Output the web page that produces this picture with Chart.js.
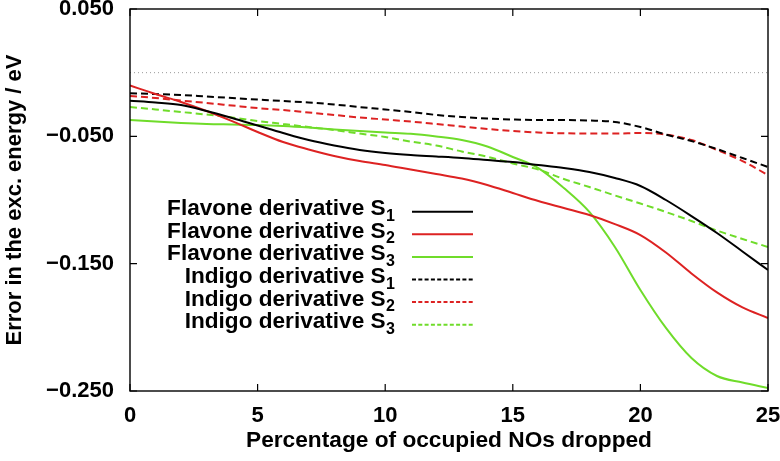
<!DOCTYPE html>
<html><head><meta charset="utf-8">
<script src="https://cdn.jsdelivr.net/npm/chart.js@4/dist/chart.umd.min.js"></script>
<style>html,body{margin:0;padding:0;background:#fff;}#wrap{width:780px;height:461px;}</style>
</head><body><div id="wrap"><canvas id="c" width="780" height="461"></canvas></div>
<script>
const xValues = [0,1,2,3,4,5,6,7,8,9,10,11,12,13,14,15,16,17,18,19,20,21,22,23,24,25];
const xTicks = [0,5,10,15,20,25];
const yTicks = [-0.25,-0.15,-0.05,0.05];
const xTitle = 'Percentage of occupied NOs dropped';
const yTitle = 'Error in the exc. energy / eV';

const flavoneS1 = [-0.0220,-0.0234,-0.0254,-0.0301,-0.0356,-0.0415,-0.0474,-0.0529,-0.0572,-0.0607,-0.0631,-0.0647,-0.0658,-0.0670,-0.0686,-0.0702,-0.0725,-0.0749,-0.0780,-0.0827,-0.0890,-0.1000,-0.1126,-0.1259,-0.1404,-0.1550];
const flavoneS2 = [-0.0101,-0.0168,-0.0230,-0.0301,-0.0380,-0.0466,-0.0545,-0.0603,-0.0654,-0.0694,-0.0725,-0.0761,-0.0796,-0.0831,-0.0882,-0.0945,-0.1008,-0.1063,-0.1118,-0.1189,-0.1275,-0.1412,-0.1577,-0.1726,-0.1844,-0.1927];
const flavoneS3 = [-0.0372,-0.0384,-0.0395,-0.0403,-0.0407,-0.0411,-0.0419,-0.0431,-0.0446,-0.0458,-0.0470,-0.0480,-0.0501,-0.0529,-0.0580,-0.0662,-0.0749,-0.0906,-0.1094,-0.1369,-0.1707,-0.2005,-0.2241,-0.2382,-0.2433,-0.2477];
const indigoS1 = [-0.0162,-0.0168,-0.0175,-0.0187,-0.0199,-0.0211,-0.0223,-0.0234,-0.0250,-0.0270,-0.0289,-0.0309,-0.0332,-0.0348,-0.0360,-0.0368,-0.0372,-0.0372,-0.0376,-0.0387,-0.0427,-0.0486,-0.0537,-0.0600,-0.0670,-0.0741];
const indigoS2 = [-0.0183,-0.0199,-0.0219,-0.0238,-0.0258,-0.0278,-0.0293,-0.0313,-0.0332,-0.0352,-0.0368,-0.0384,-0.0403,-0.0423,-0.0442,-0.0458,-0.0470,-0.0476,-0.0478,-0.0478,-0.0474,-0.0486,-0.0529,-0.0607,-0.0694,-0.0804];
const indigoS3 = [-0.0270,-0.0289,-0.0309,-0.0329,-0.0352,-0.0380,-0.0403,-0.0427,-0.0450,-0.0478,-0.0505,-0.0541,-0.0572,-0.0619,-0.0660,-0.0713,-0.0761,-0.0835,-0.0898,-0.0964,-0.1028,-0.1094,-0.1165,-0.1240,-0.1306,-0.1369];
const referenceLine = [0,0];
const referenceX = [0,25];

const seriesNames = ['Flavone derivative S','Flavone derivative S','Flavone derivative S','Indigo derivative S','Indigo derivative S','Indigo derivative S'];
const seriesSubs = ['1','2','3','1','2','3'];
const seriesValues = [flavoneS1,flavoneS2,flavoneS3,indigoS1,indigoS2,indigoS3];
const seriesColors = ['#000000','#dd2222','#6fdc2a','#000000','#dd2222','#6fdc2a'];
const seriesDashed = [false,false,false,true,true,true];

const FONT = 'Liberation Sans, Arial, Helvetica, sans-serif';

const datasets = [{
  label: '', data: referenceX.map((x,i)=>({x, y: referenceLine[i]})),
  borderColor: '#9a9a9a', borderWidth: 1, borderDash: [1,3], pointRadius: 0, fill: false, legendSkip: true
}];
seriesValues.forEach((vals, k) => {
  datasets.push({
    label: seriesNames[k], sub: seriesSubs[k],
    data: xValues.map((x,i)=>({x, y: vals[i]})),
    borderColor: seriesColors[k], borderWidth: 2,
    borderDash: seriesDashed[k] ? [7,4] : [],
    legendDash: seriesDashed[k] ? [4,2.3] : [],
    pointRadius: 0, fill: false, cubicInterpolationMode: 'monotone'
  });
});

const framePlugin = {
  id: 'frame',
  afterDatasetsDraw(chart) {
    const {ctx, chartArea: a, scales: {x, y}} = chart;
    ctx.save();
    ctx.strokeStyle = '#000'; ctx.lineWidth = 1.4;
    ctx.strokeRect(a.left, a.top, a.right - a.left, a.bottom - a.top);
    ctx.lineWidth = 1.2;
    const L = 7;
    ctx.beginPath();
    xTicks.forEach(v => { const p = x.getPixelForValue(v);
      ctx.moveTo(p, a.bottom); ctx.lineTo(p, a.bottom - L);
      ctx.moveTo(p, a.top); ctx.lineTo(p, a.top + L); });
    yTicks.forEach(v => { const p = y.getPixelForValue(v);
      ctx.moveTo(a.left, p); ctx.lineTo(a.left + L, p);
      ctx.moveTo(a.right, p); ctx.lineTo(a.right - L, p); });
    ctx.stroke();
    // legend
    const textEnd = a.left + 265, lineStart = a.left + 282, lineEnd = a.left + 343;
    let rowY = a.top + 202.7;
    chart.data.datasets.forEach(ds => {
      if (ds.legendSkip) return;
      ctx.font = 'bold 16px ' + FONT;
      const subW = ctx.measureText(ds.sub).width;
      ctx.fillStyle = '#000'; ctx.textBaseline = 'alphabetic';
      ctx.textAlign = 'left';
      ctx.fillText(ds.sub, textEnd - subW, rowY + 9);
      ctx.font = 'bold 22.6px ' + FONT;
      ctx.textAlign = 'right';
      ctx.fillText(ds.label, textEnd - subW - 0.5, rowY + 3.5);
      ctx.strokeStyle = ds.borderColor; ctx.lineWidth = 2;
      ctx.setLineDash(ds.legendDash);
      ctx.beginPath(); ctx.moveTo(lineStart, rowY); ctx.lineTo(lineEnd, rowY); ctx.stroke();
      ctx.setLineDash([]);
      rowY += 22.6;
    });
    ctx.restore();
  }
};

new Chart(document.getElementById('c'), {
  type: 'line',
  data: { datasets },
  options: {
    responsive: false, devicePixelRatio: 1, animation: false,
    layout: { padding: { top: 9, right: 12, left: 0, bottom: 0 } },
    plugins: { legend: { display: false }, tooltip: { enabled: false } },
    scales: {
      x: {
        type: 'linear', min: 0, max: 25,
        afterBuildTicks: s => { s.ticks = xTicks.map(v => ({ value: v })); },
        afterFit: s => { s.height = 70; s.paddingLeft = 0; s.paddingRight = 0; },
        grid: { display: false, drawTicks: false },
        border: { display: false },
        ticks: { color: '#000', font: { family: FONT, size: 22, weight: 'bold' }, padding: 12, maxRotation: 0, autoSkip: false, callback: v => String(v) },
        title: { display: true, text: xTitle, color: '#000', font: { family: FONT, size: 22.7, weight: 'bold' }, padding: { top: 0, bottom: 7 } }
      },
      y: {
        type: 'linear', min: -0.25, max: 0.05,
        afterBuildTicks: s => { s.ticks = yTicks.map(v => ({ value: v })); },
        afterFit: s => { s.width = 130; s.paddingTop = 0; s.paddingBottom = 0; },
        grid: { display: false, drawTicks: false },
        border: { display: false },
        ticks: { color: '#000', font: { family: FONT, size: 22, weight: 'bold' }, padding: 16, autoSkip: false, callback: v => (v < 0 ? '\u2212' : '') + Math.abs(v).toFixed(3) },
        title: { display: true, text: yTitle, color: '#000', font: { family: FONT, size: 22, weight: 'bold' }, padding: { top: 2, bottom: 0 } }
      }
    }
  },
  plugins: [framePlugin]
});
</script></body></html>
